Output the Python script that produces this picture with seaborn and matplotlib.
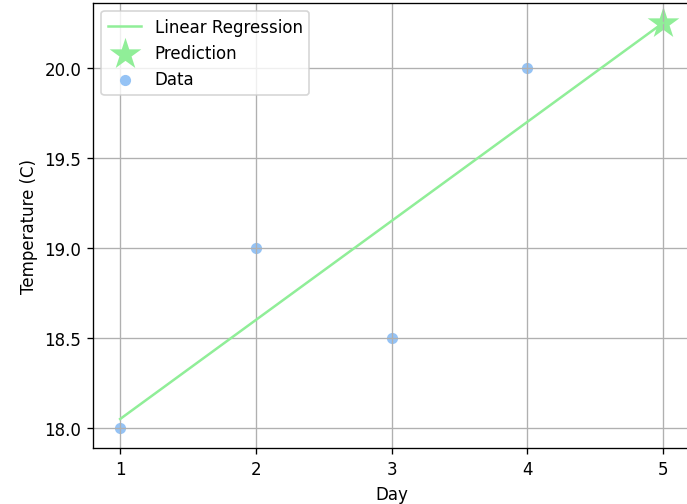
import numpy as np
import pandas as pd
import matplotlib
matplotlib.use("Agg")
import matplotlib.pyplot as plt
import seaborn as sns

days = [1, 2, 3, 4]
temps = [18.0, 19.0, 18.5, 20.0]
predict_day = 5

blue = "#95c3f5"
green = "#90ee98"

df = pd.DataFrame({"Day": days, "Temperature": temps})

# least-squares fit on the observed days
slope, intercept = np.polyfit(days, temps, 1)
fit_x = np.array(days + [predict_day])
fit_y = slope * fit_x + intercept
predicted = slope * predict_day + intercept

W, H, DPI = 687, 505, 120
fig, ax = plt.subplots(figsize=(W / DPI, H / DPI), dpi=DPI)
fig.subplots_adjust(left=93 / W, right=690 / W, top=1 - 3.75 / H, bottom=1 - 449.25 / H)

sns.lineplot(x=fit_x, y=fit_y, ax=ax, color=green, label="Linear Regression")
sns.scatterplot(x=[predict_day], y=[predicted], ax=ax, marker="*", s=400,
                color=green, linewidth=0, label="Prediction")
sns.scatterplot(data=df, x="Day", y="Temperature", ax=ax, color=blue, s=45,
                linewidth=0, label="Data")

ax.set_xlabel("Day")
ax.set_ylabel("Temperature (C)")
ax.set_xticks([1, 2, 3, 4, 5])
ax.set_yticks([18.0, 18.5, 19.0, 19.5, 20.0])
ax.grid(True)
ax.legend(loc="upper left")

fig.savefig("out.png", dpi=DPI)
